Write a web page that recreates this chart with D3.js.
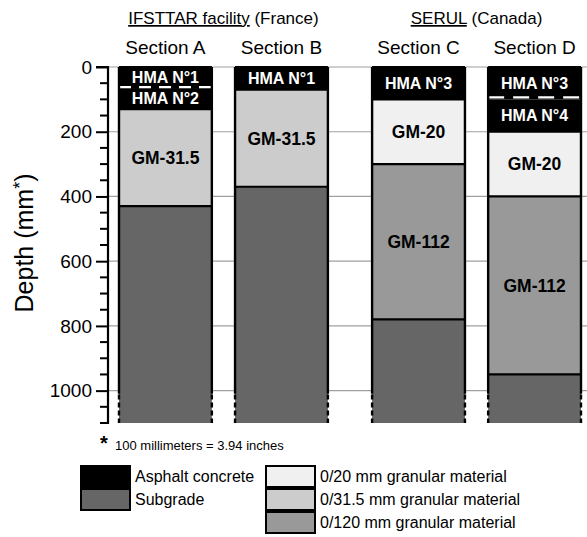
<!DOCTYPE html>
<html>
<head>
<meta charset="utf-8">
<script src="https://cdn.jsdelivr.net/npm/d3@7"></script>
<style>
  body { margin: 0; background: #fff; }
  text { font-family: "Liberation Sans", Arial, sans-serif; }
</style>
</head>
<body>
<script>
// sections and their sites
var sections = ["Section A", "Section B", "Section C", "Section D"];
var sectionSite = ["IFSTTAR facility", "IFSTTAR facility", "SERUL", "SERUL"];
var sites = ["IFSTTAR facility", "SERUL"];
var siteCountry = ["(France)", "(Canada)"];

// layers, one entry per layer (depths in mm)
var layerSection  = ["Section A", "Section A", "Section A", "Section A",
                     "Section B", "Section B", "Section B",
                     "Section C", "Section C", "Section C", "Section C",
                     "Section D", "Section D", "Section D", "Section D", "Section D"];
var layerTop      = [0, 65, 130, 430,  0, 70, 370,  0, 100, 300, 780,  0, 100, 200, 400, 950];
var layerBottom   = [65, 130, 430, 1100,  70, 370, 1100,  100, 300, 780, 1100,  100, 200, 400, 950, 1100];
var layerMaterial = ["asphalt", "asphalt", "gm315", "subgrade",
                     "asphalt", "gm315", "subgrade",
                     "asphalt", "gm20", "gm112", "subgrade",
                     "asphalt", "asphalt", "gm20", "gm112", "subgrade"];
var layerLabel    = ["HMA N°1", "HMA N°2", "GM-31.5", "",
                     "HMA N°1", "GM-31.5", "",
                     "HMA N°3", "GM-20", "GM-112", "",
                     "HMA N°3", "HMA N°4", "GM-20", "GM-112", ""];

// legend
var materials = ["asphalt", "subgrade", "gm20", "gm315", "gm112"];
var materialName = ["Asphalt concrete", "Subgrade", "0/20 mm granular material",
                    "0/31.5 mm granular material", "0/120 mm granular material"];
var materialFill = ["#000000", "#666666", "#f0f0f0", "#cccccc", "#999999"];

var yTicks = [0, 200, 400, 600, 800, 1000];
var footnote = "100 millimeters = 3.94 inches";

var W = 587, H = 537;
var svg = d3.select("body").append("svg").attr("width", W).attr("height", H);

var fill = d3.scaleOrdinal().domain(materials).range(materialFill);

var y = d3.scaleLinear().domain([0, 1100]).range([67, 423]);

// bars: equal band, second site pushed right a bit
var x = d3.scaleBand().domain(sections).range([119, 560]).paddingInner(0.2);
var siteShift = d3.scaleOrdinal().domain(sites).range([0, 21]);
function bx(s) { return x(s) + siteShift(sectionSite[sections.indexOf(s)]); }

var layers = layerSection.map(function(s, i) {
  return { section: s, top: layerTop[i], bottom: layerBottom[i],
           mat: layerMaterial[i], label: layerLabel[i] };
});

// gridlines
svg.append("g").selectAll("line").data(yTicks).join("line")
  .attr("x1", 108).attr("x2", W)
  .attr("y1", function(d) { return y(d); }).attr("y2", function(d) { return y(d); })
  .attr("stroke", "#a0a0a0").attr("stroke-width", 1.2);

// layer fills
svg.append("g").selectAll("rect").data(layers).join("rect")
  .attr("x", function(d) { return bx(d.section); })
  .attr("width", x.bandwidth())
  .attr("y", function(d) { return y(d.top); })
  .attr("height", function(d) { return y(d.bottom) - y(d.top); })
  .attr("fill", function(d) { return fill(d.mat); });

// boundaries between layers (white dashes between two asphalt layers)
var bounds = layers.filter(function(d) { return d.top > 0; });
svg.append("g").selectAll("line").data(bounds).join("line")
  .attr("x1", function(d) { return bx(d.section); })
  .attr("x2", function(d) { return bx(d.section) + x.bandwidth(); })
  .attr("y1", function(d) { return y(d.top); }).attr("y2", function(d) { return y(d.top); })
  .attr("stroke", function(d) { return d.mat === "asphalt" ? "#fff" : "#000"; })
  .attr("stroke-width", 2.2)
  .attr("stroke-dasharray", function(d) {
    if (d.mat !== "asphalt") return null;
    return d.section === "Section A" ? "12,8" : "16,9";
  })
  .attr("transform", function(d) { return d.mat === "asphalt" ? "translate(0," + (d.section === "Section A" ? -1 : -2) + ")" : null; });

// top edge and sides
var outline = svg.append("g");
sections.forEach(function(s) {
  var x0 = bx(s), x1 = bx(s) + x.bandwidth();
  outline.append("line").attr("x1", x0).attr("x2", x1)
    .attr("y1", y(0)).attr("y2", y(0)).attr("stroke", "#000").attr("stroke-width", 2);
  [x0, x1].forEach(function(xx) {
    outline.append("line").attr("x1", xx).attr("x2", xx)
      .attr("y1", y(0)).attr("y2", y(1010))
      .attr("stroke", "#000").attr("stroke-width", 2.4);
    outline.append("line").attr("x1", xx).attr("x2", xx)
      .attr("y1", y(1012)).attr("y2", y(1100))
      .attr("stroke", "#000").attr("stroke-width", 2.4)
      .attr("stroke-dasharray", "5,3");
  });
});

// labels inside bars
svg.append("g").selectAll("text").data(layers.filter(function(d) { return d.label; })).join("text")
  .attr("x", function(d) { return bx(d.section) + x.bandwidth() / 2; })
  .attr("y", function(d) { return (y(d.top) + y(d.bottom)) / 2; })
  .attr("dy", "0.36em")
  .attr("text-anchor", "middle")
  .attr("font-weight", "bold")
  .attr("font-size", function(d) { return d.mat === "asphalt" ? 16 : 17.5; })
  .attr("fill", function(d) { return d.mat === "asphalt" ? "#fff" : "#000"; })
  .text(function(d) { return d.label; });

// y axis
var axis = svg.append("g").attr("transform", "translate(108,0)")
  .call(d3.axisLeft(y).tickValues(yTicks).tickFormat(d3.format("d")).tickSize(12).tickPadding(4));
axis.select(".domain").attr("stroke-width", 2.2).attr("d", "M-8," + y(1100) + "H0V" + y(0) + "H-12");
axis.selectAll(".tick line").attr("stroke-width", 2);
axis.selectAll(".tick text").attr("font-size", 19).attr("font-family", "Liberation Sans, Arial, sans-serif").attr("fill", "#000");
axis.append("g").selectAll("line").data(d3.range(50, 1101, 50).filter(function(v) { return v % 200 !== 0; }))
  .join("line").attr("x1", -8).attr("x2", 0)
  .attr("y1", function(d) { return y(d); }).attr("y2", function(d) { return y(d); })
  .attr("stroke", "#000").attr("stroke-width", 2);

var ylab = svg.append("text")
  .attr("transform", "translate(33,243) rotate(-90)")
  .attr("text-anchor", "middle").attr("font-size", 25);
ylab.append("tspan").text("Depth (mm");
ylab.append("tspan").attr("dy", -7).attr("font-size", 18).text("*");
ylab.append("tspan").attr("dy", 7).text(")");

// section titles
svg.append("g").selectAll("text").data(sections).join("text")
  .attr("x", function(s) { return bx(s) + x.bandwidth() / 2; })
  .attr("y", 54).attr("text-anchor", "middle").attr("font-size", 19)
  .text(function(s) { return s; });

// site titles
sites.forEach(function(site, i) {
  var ss = sections.filter(function(s, j) { return sectionSite[j] === site; });
  var cx = (bx(ss[0]) + bx(ss[ss.length - 1]) + x.bandwidth()) / 2;
  var t = svg.append("text").attr("x", cx).attr("y", 24)
    .attr("text-anchor", "middle").attr("font-size", 17);
  t.append("tspan").attr("text-decoration", "underline").text(site);
  t.append("tspan").text(" " + siteCountry[i]);
});

// footnote
svg.append("text").attr("x", 100).attr("y", 450).attr("font-size", 20).attr("font-weight", "bold").text("*");
svg.append("text").attr("x", 115).attr("y", 450).attr("font-size", 13).text(footnote);

// legend
var legCol = [0, 0, 1, 1, 1];
var legRow = [0, 1, 0, 1, 2];
var lx = d3.scaleOrdinal().domain([0, 1]).range([81, 266]);
var ly = d3.scaleLinear().domain([0, 1]).range([466, 489]);
var leg = svg.append("g").selectAll("g").data(materials).join("g")
  .attr("transform", function(d, i) { return "translate(" + lx(legCol[i]) + "," + ly(legRow[i]) + ")"; });
leg.append("rect").attr("width", 49).attr("height", 21)
  .attr("fill", function(d) { return fill(d); })
  .attr("stroke", "#000").attr("stroke-width", 2);
leg.append("text").attr("x", 54).attr("y", 16).attr("font-size", 16)
  .text(function(d, i) { return materialName[i]; });
</script>
</body>
</html>
